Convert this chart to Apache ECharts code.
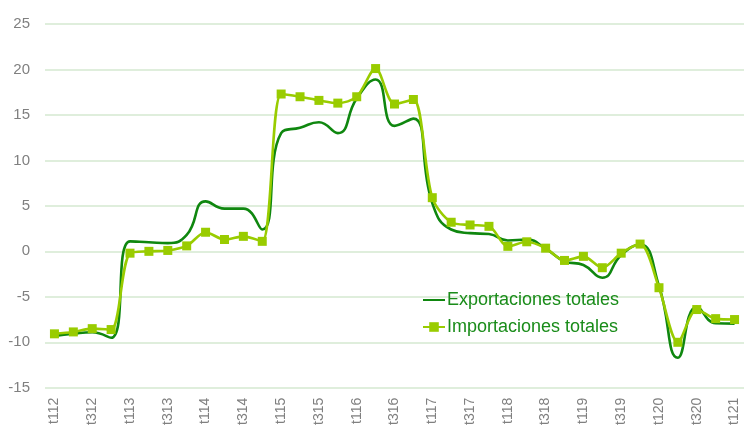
<!DOCTYPE html>
<html>
<head>
<meta charset="utf-8">
<script src="https://cdn.jsdelivr.net/npm/echarts@6/dist/echarts.min.js"></script>
<style>
    html, body { margin: 0; padding: 0; background: #fff; }
    #chart { width: 744px; height: 428px; }
</style>
</head>
<body>
<div id="chart"></div>
<script type="text/javascript">
// trimestres t1 2012 .. t1 2021
var quarters = [];
for (var y = 12; y <= 21; y++) {
    for (var q = 1; q <= 4; q++) {
        if (y === 21 && q > 1) break;
        quarters.push('t' + q + y);
    }
}

var exportaciones = [-9.3, -9.05, -8.9, -9.5, 1.1, 1.0, 0.9, 1.8, 5.5, 4.7, 4.7, 2.4,
    13.0, 13.6, 14.2, 13.0, 16.8, 18.9, 13.8, 14.6, 5.3, 2.4, 2.0, 1.9, 1.2, 1.3, 0.3,
    -1.1, -1.5, -2.9, -0.4, 0.75, -3.8, -11.7, -6.1, -7.9, -7.95];
var importaciones = [-9.07, -8.86, -8.5, -8.6, -0.2, 0.0, 0.1, 0.6, 2.1, 1.3, 1.65, 1.1,
    17.3, 17.0, 16.6, 16.3, 17.0, 20.1, 16.2, 16.7, 5.9, 3.2, 2.9, 2.75, 0.55, 1.05, 0.35,
    -1.0, -0.55, -1.8, -0.2, 0.8, -4.0, -10.0, -6.4, -7.4, -7.5];

var chart = echarts.init(document.getElementById('chart'), null, {renderer: 'canvas'});
var option = {
    animation: false,
    textStyle: { fontFamily: 'Liberation Sans, Arial, sans-serif' },
    grid: { left: 45, right: -8, top: 24, bottom: 40 },
    legend: {
        orient: 'vertical',
        left: 422,
        top: 290,
        padding: 0,
        itemWidth: 22,
        itemHeight: 12,
        itemGap: 7,
        textStyle: { color: '#1a8c1a', fontSize: 18, lineHeight: 20, padding: [0, 0, 0, -3] },
        data: [
            { name: 'Exportaciones totales', itemStyle: { opacity: 0 } },
            { name: 'Importaciones totales' }
        ]
    },
    xAxis: {
        type: 'category',
        boundaryGap: true,
        data: quarters,
        axisLine: { show: false },
        axisTick: { show: false },
        axisLabel: { interval: 1, rotate: 90, margin: 10, color: '#808080', fontSize: 14 }
    },
    yAxis: {
        type: 'value',
        min: -15,
        max: 25,
        interval: 5,
        axisLine: { show: false },
        axisTick: { show: false },
        axisLabel: { color: '#808080', fontSize: 15, margin: 15 },
        splitLine: { lineStyle: { color: '#d5e8d0', width: 1.5 } }
    },
    series: [
        {
            name: 'Exportaciones totales',
            type: 'line',
            smooth: 0.5,
            symbol: 'none',
            data: exportaciones,
            itemStyle: { color: '#0f870f' },
            lineStyle: { color: '#0f870f', width: 2.6 }
        },
        {
            name: 'Importaciones totales',
            type: 'line',
            smooth: 0.3,
            symbol: 'rect',
            symbolSize: 9,
            data: importaciones,
            itemStyle: { color: '#99cc00' },
            lineStyle: { color: '#99cc00', width: 2.6 }
        }
    ]
};
chart.setOption(option);
</script>
</body>
</html>
